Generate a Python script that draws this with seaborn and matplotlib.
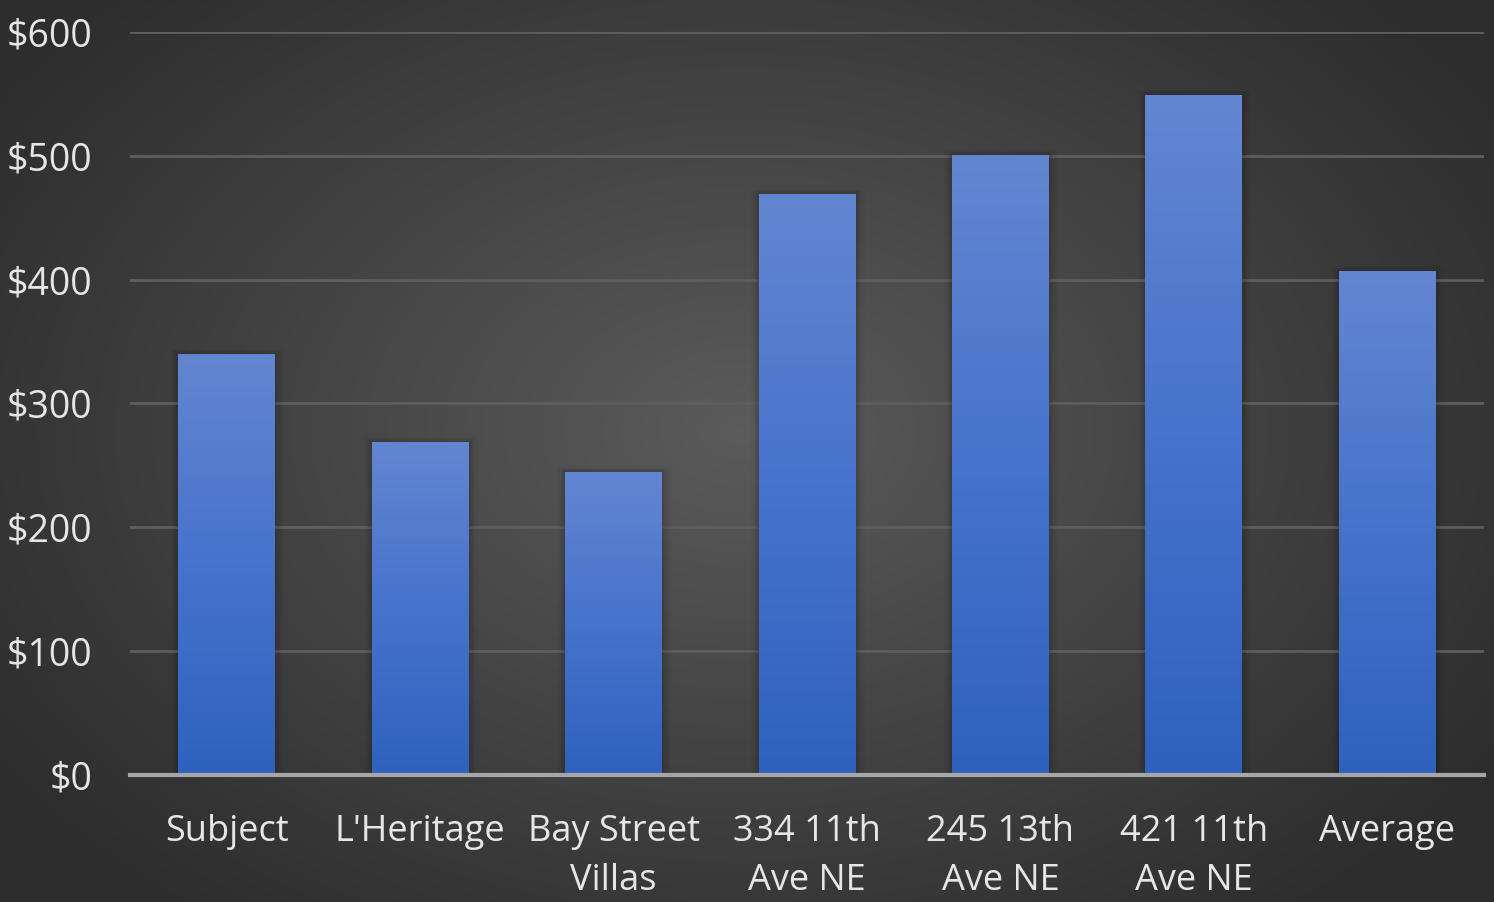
import numpy as np
import pandas as pd
import matplotlib
matplotlib.use("Agg")
import matplotlib.pyplot as plt
import seaborn as sns
from matplotlib.colors import LinearSegmentedColormap

categories = ["Subject", "L'Heritage", "Bay Street\nVillas", "334 11th\nAve NE",
              "245 13th\nAve NE", "421 11th\nAve NE", "Average"]
values = [340, 269, 245, 469, 501, 549, 407]
yticks = [0, 100, 200, 300, 400, 500, 600]
ytick_labels = ["$0", "$100", "$200", "$300", "$400", "$500", "$600"]

sns.set_theme(style="white")
plt.rcParams['font.family'] = ['Open Sans', 'DejaVu Sans']

W, H = 1494, 902
fig = plt.figure(figsize=(W / 100, H / 100), dpi=100)

# background radial gradient
bg = fig.add_axes([0, 0, 1, 1], zorder=-10)
yy, xx = np.mgrid[0:H, 0:W]
r = np.sqrt(((xx - 740) / 900.0) ** 2 + ((yy - 430) / 620.0) ** 2)
r = np.clip(r, 0, 1)
bg_cmap = LinearSegmentedColormap.from_list("bg", ["#5b5b5b", "#2d2d2d"])
bg.imshow(r, cmap=bg_cmap, aspect="auto", extent=[0, 1, 0, 1], origin="upper", vmin=0, vmax=1)
bg.axis("off")

ax = fig.add_axes([130 / W, (H - 775) / H, (1484 - 130) / W, (775 - 32) / H])
ax.patch.set_alpha(0)

df = pd.DataFrame({"cat": categories, "val": values})
sns.barplot(data=df, x="cat", y="val", ax=ax, width=0.5, color="#3f6fca",
            saturation=1, edgecolor="none", zorder=3)

bar_cmap = LinearSegmentedColormap.from_list("bar", ["#2e62be", "#4673cc", "#6386d1"])
grad = np.linspace(0, 1, 256).reshape(-1, 1)
for p in ax.patches:
    x0 = p.get_x(); w = p.get_width(); h = p.get_height()
    # soft shadow
    for k, a in enumerate([0.07, 0.05, 0.03, 0.02]):
        off = 0.01 * (k + 1)
        ax.add_patch(plt.Rectangle((x0 - off, 0), w + off * 2.2, h + off * 110,
                                   facecolor="black", alpha=a, edgecolor="none", zorder=2))
    p.set_facecolor("none")
    im = ax.imshow(grad, cmap=bar_cmap, aspect="auto", origin="lower",
                   extent=[x0, x0 + w, 0, h], zorder=3)
    im.set_clip_path(p)
ax.set_xlim(-0.5, len(categories) - 0.5)
ax.set_ylim(0, 600)

ax.set_yticks(yticks)
ax.set_yticklabels(ytick_labels)
ax.yaxis.grid(True, color="#5e5e5e", linewidth=2, zorder=0)
ax.set_axisbelow(True)
for s in ["top", "right", "left"]:
    ax.spines[s].set_visible(False)
ax.spines["bottom"].set_color("#a6a6a6")
ax.spines["bottom"].set_linewidth(3)
ax.spines["bottom"].set_zorder(5)
ax.tick_params(axis="y", length=0, pad=27, labelsize=27, labelcolor="#e6e6e6")
ax.tick_params(axis="x", length=0, pad=28, labelsize=26, labelcolor="#e6e6e6")
for t in ax.get_xticklabels():
    t.set_linespacing(1.47)
    t.set_verticalalignment("top")
ax.set_xlabel("")
ax.set_ylabel("")

fig.savefig("out.png", dpi=100)
